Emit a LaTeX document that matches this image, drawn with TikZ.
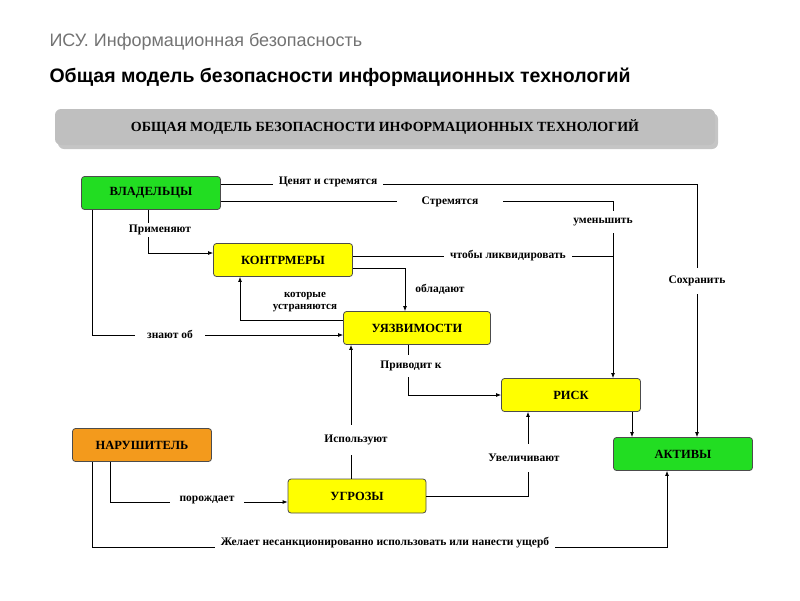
\documentclass[tikz,border=0pt]{standalone}
\usepackage{fontspec}
\setmainfont{Liberation Serif}
\newfontfamily\hdr{Liberation Sans}
\usetikzlibrary{arrows.meta,shadows}
\definecolor{gbox}{HTML}{22DD22}
\definecolor{ybox}{HTML}{FFFF00}
\definecolor{obox}{HTML}{F39A1C}
\tikzset{
 box/.style={draw=black!70,line width=0.8pt,rounded corners=3pt,minimum width=139pt,minimum height=33pt,font=\bfseries\fontsize{12.5}{14}\selectfont},
 lab/.style={fill=white,inner xsep=6pt,inner ysep=2pt,font=\bfseries\fontsize{11.5}{12}\selectfont,align=center},
 ln/.style={line width=0.8pt},
 ar/.style={line width=0.8pt,-{Latex[length=5pt,width=4pt]}}
}
\begin{document}
\begin{tikzpicture}[x=1pt,y=-1pt]
\useasboundingbox (0,0) rectangle (800,600);
\node[anchor=west,text=black!55,font=\hdr\fontsize{18}{20}\selectfont] (t1) at (46,42) {ИСУ. Информационная безопасность};
\node[anchor=west,font=\hdr\bfseries\fontsize{19.5}{22}\selectfont] (t2) at (46,77) {Общая модель безопасности информационных технологий};
\node[fill=black!25,rounded corners=6pt,minimum width=660pt,minimum height=36pt,drop shadow={shadow xshift=3pt,shadow yshift=-4pt,fill=black!45},font=\bfseries\fontsize{14}{16}\selectfont] (ban) at (385,127) {ОБЩАЯ МОДЕЛЬ БЕЗОПАСНОСТИ ИНФОРМАЦИОННЫХ ТЕХНОЛОГИЙ};
\node[box,fill=gbox] (own) at (151,193) {ВЛАДЕЛЬЦЫ};
\node[box,fill=ybox] (cm) at (283,260) {КОНТРМЕРЫ};
\node[box,fill=ybox,minimum width=147pt] (vul) at (417,328) {УЯЗВИМОСТИ};
\node[box,fill=ybox] (risk) at (571,395) {РИСК};
\node[box,fill=gbox] (ast) at (683,454) {АКТИВЫ};
\node[box,fill=obox] (viol) at (142,445) {НАРУШИТЕЛЬ};
\node[box,fill=ybox,minimum width=138pt,minimum height=34pt] (thr) at (357,496) {УГРОЗЫ};
% 1
\draw[ar] (own.east |- 0,184) -| (ast.north -| 697,0);
\node[lab] (l1) at (328,182) {Ценят и стремятся};
\node[lab,inner ysep=8pt] (l2) at (697,281) {Сохранить};
% 2
\draw[ar] (own.east |- 0,201) -| (risk.north -| 613,0);
\node[lab,inner xsep=25pt] (l3) at (450,202) {Стремятся};
\node[lab,inner ysep=7pt] (l4) at (603,222) {уменьшить};
% 3
\draw[ln] (cm.east |- 0,256) -- (613,256);
\node[lab] (l5) at (508,256) {чтобы ликвидировать};
% 4
\draw[ar] (cm.east |- 0,268) -| (vul.north -| 405,0);
\node[lab] (l6) at (440,289) {обладают};
% 5
\draw[ar] (own.south -| 148,0) |- (cm.west |- 0,253);
\node[lab] (l7) at (160,230) {Применяют};
% 6
\draw[ar] (own.south -| 92,0) |- (vul.west |- 0,335);
\node[lab,inner xsep=12pt] (l8) at (170,334) {знают об};
% 7
\draw[ar] (vul.west |- 0,320) -| (cm.south -| 240,0);
\node[lab,fill=none,inner sep=0pt,font=\bfseries\fontsize{11}{12}\selectfont] (l9) at (305,302) {которые\\устраняются};
% 8
\draw[ar] (vul.south -| 408,0) |- (risk.west |- 0,395);
\node[lab,inner ysep=6pt] (l10) at (411,366) {Приводит к};
% 9
\draw[ar] (thr.north -| 351,0) -- (vul.south -| 351,0);
\node[lab,inner ysep=10pt] (l11) at (356,440) {Используют};
% 10
\draw[ar] (thr.east |- 0,496) -| (risk.south -| 528,0);
\node[lab,inner ysep=10pt] (l12) at (524,458) {Увеличивают};
% 11
\draw[ar] (risk.south -| 632,0) -- (ast.north -| 632,0);
% 12
\draw[ar] (viol.south -| 110,0) |- (thr.west |- 0,502);
\node[lab,inner xsep=10pt] (l13) at (207,500) {порождает};
% 13
\draw[ar] (viol.south -| 92,0) |- (667,547) -- (ast.south -| 667,0);
\node[lab] (l14) at (385,543) {Желает несанкционированно использовать или нанести ущерб};
\end{tikzpicture}
\end{document}
